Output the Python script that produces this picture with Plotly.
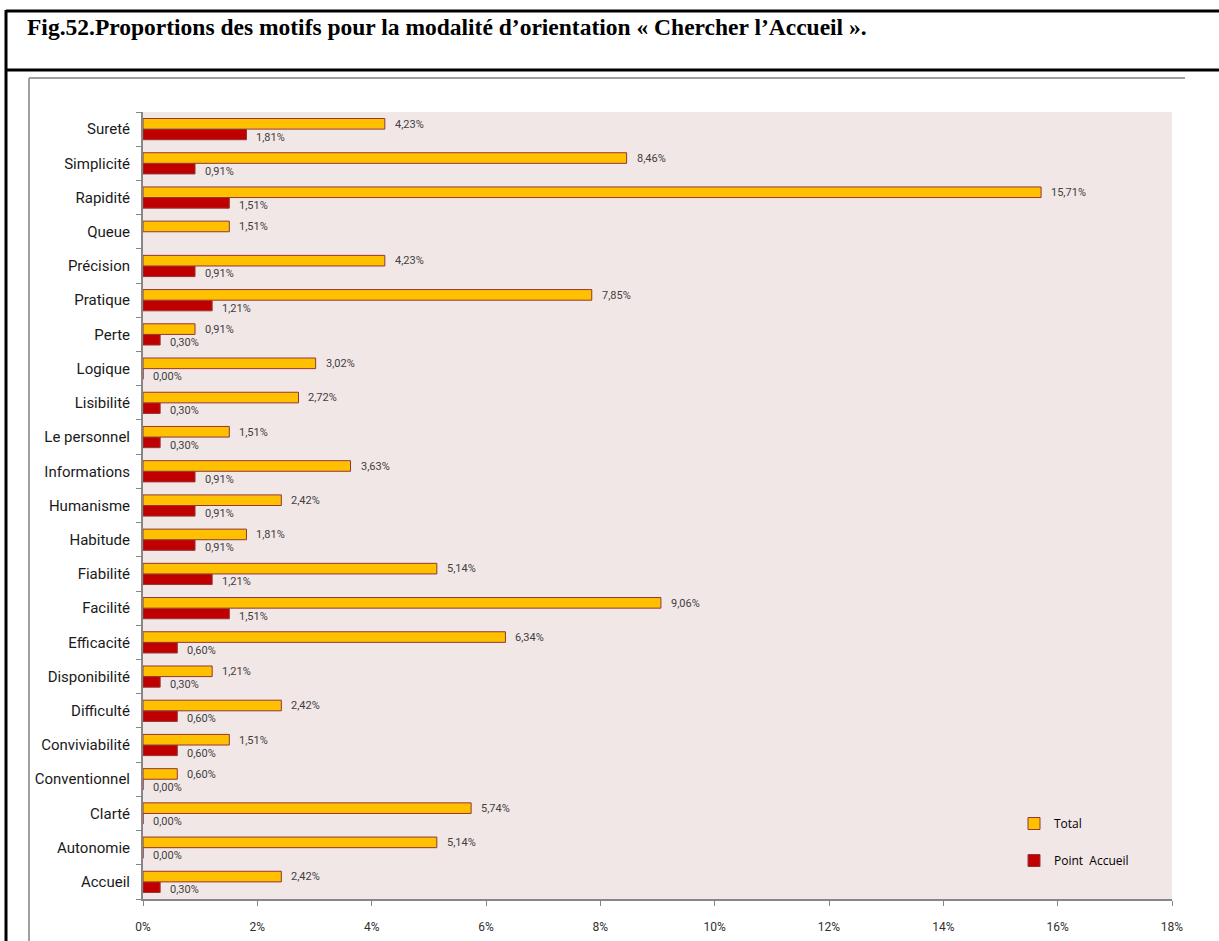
import plotly.graph_objects as go

# ---- data (bottom to top) ----
categories = ["Accueil", "Autonomie", "Clarté", "Conventionnel", "Conviviabilité",
              "Difficulté", "Disponibilité", "Efficacité", "Facilité", "Fiabilité",
              "Habitude", "Humanisme", "Informations", "Le personnel", "Lisibilité",
              "Logique", "Perte", "Pratique", "Précision", "Queue", "Rapidité",
              "Simplicité", "Sureté"]
total = [2.42, 5.14, 5.74, 0.60, 1.51, 2.42, 1.21, 6.34, 9.06, 5.14,
         1.81, 2.42, 3.63, 1.51, 2.72, 3.02, 0.91, 7.85, 4.23, 1.51, 15.71,
         8.46, 4.23]
point_accueil = [0.30, 0.00, 0.00, 0.00, 0.60, 0.60, 0.30, 0.60, 1.51, 1.21,
                 0.91, 0.91, 0.91, 0.30, 0.30, 0.00, 0.30, 1.21, 0.91, None, 1.51,
                 0.91, 1.81]
x_ticks = [0, 2, 4, 6, 8, 10, 12, 14, 16, 18]
title_text = "Fig.52.Proportions des motifs pour la modalité d’orientation « Chercher l’Accueil »."

def fmt(v):
    return "" if v is None else f"{v:.2f}".replace(".", ",") + "%"

W, H = 1219, 941
L, R, T, B = 143, 1172, 112, 899
PW, PH = R - L, B - T

def px(x):
    return (x - L) / PW

def py(y):
    return (B - y) / PH

cond = "Roboto, sans-serif"
outline = "#943634"
label_font = dict(family=cond, size=11, color="#404040")

fig = go.Figure()
fig.add_trace(go.Bar(
    y=categories, x=point_accueil, orientation="h", name="Point  Accueil",
    marker=dict(color="#C00000", line=dict(color=outline, width=1)),
    legendrank=2, legendgroup="b",
))
fig.add_trace(go.Bar(
    y=categories, x=total, orientation="h", name="Total",
    marker=dict(color="#FFC000", line=dict(color=outline, width=1)),
    legendrank=1, legendgroup="a",
))

annotations = []
for c, t, p in zip(categories, total, point_accueil):
    if t is not None:
        annotations.append(dict(x=t, y=c, xref="x", yref="y", text=fmt(t), showarrow=False,
                                xanchor="left", yanchor="middle", xshift=8, yshift=5,
                                font=label_font))
    if p is not None:
        annotations.append(dict(x=p, y=c, xref="x", yref="y", text=fmt(p), showarrow=False,
                                xanchor="left", yanchor="middle", xshift=8, yshift=-8,
                                font=label_font))

annotations.append(dict(text="<b>" + title_text + "</b>", xref="paper", yref="paper",
                        x=px(25), y=py(27), xanchor="left", yanchor="middle", showarrow=False,
                        font=dict(family="Liberation Serif, Times New Roman, serif", size=23.5,
                                  color="black")))

shapes = [
    # black title box
    dict(type="line", xref="paper", yref="paper", x0=px(6), x1=px(W + 5), y0=py(11), y1=py(11),
         line=dict(color="black", width=3)),
    dict(type="line", xref="paper", yref="paper", x0=px(6), x1=px(W + 5), y0=py(70), y1=py(70),
         line=dict(color="black", width=3)),
    dict(type="line", xref="paper", yref="paper", x0=px(6), x1=px(6), y0=py(10), y1=py(H + 5),
         line=dict(color="black", width=3)),
    # grey chart frame
    dict(type="line", xref="paper", yref="paper", x0=px(29), x1=px(1185), y0=py(78), y1=py(78),
         line=dict(color="#A0A0A0", width=2)),
    dict(type="line", xref="paper", yref="paper", x0=px(29), x1=px(29), y0=py(78), y1=py(H + 5),
         line=dict(color="#A0A0A0", width=2)),
]

fig.update_layout(
    width=W, height=H,
    margin=dict(l=L, r=W - R, t=T, b=H - B, pad=0, autoexpand=False),
    paper_bgcolor="white", plot_bgcolor="#F2E7E7",
    barmode="group", bargap=0.38, bargroupgap=0,
    showlegend=True,
    legend=dict(x=px(1014), y=py(809), xanchor="left", yanchor="top",
                bgcolor="rgba(0,0,0,0)", traceorder="grouped",
                tracegroupgap=18, font=dict(family="Open Sans, sans-serif", size=12, color="#000"),
                itemwidth=30),
    shapes=shapes,
    annotations=annotations,
    xaxis=dict(range=[0, 18], tickvals=x_ticks, ticktext=[f"{t}%" for t in x_ticks],
               showgrid=False, zeroline=False, showline=True, linecolor="#868686", linewidth=2,
               ticks="outside", ticklen=5, tickcolor="#868686", ticklabelstandoff=11,
               automargin=False,
               tickfont=dict(family=cond, size=12, color="#303030"), fixedrange=True),
    yaxis=dict(categoryorder="array", categoryarray=categories,
               showgrid=False, zeroline=False, showline=True, linecolor="#868686", linewidth=2,
               ticks="outside", ticklen=5, tickcolor="#868686", tickson="boundaries",
               ticklabelstandoff=8, automargin=False,
               tickfont=dict(family=cond, size=15, color="#1a1a1a"), fixedrange=True),
)

fig.write_html("out.html", config={"displayModeBar": False},
               post_script="document.body.style.margin='0';document.body.style.overflow='hidden';")
